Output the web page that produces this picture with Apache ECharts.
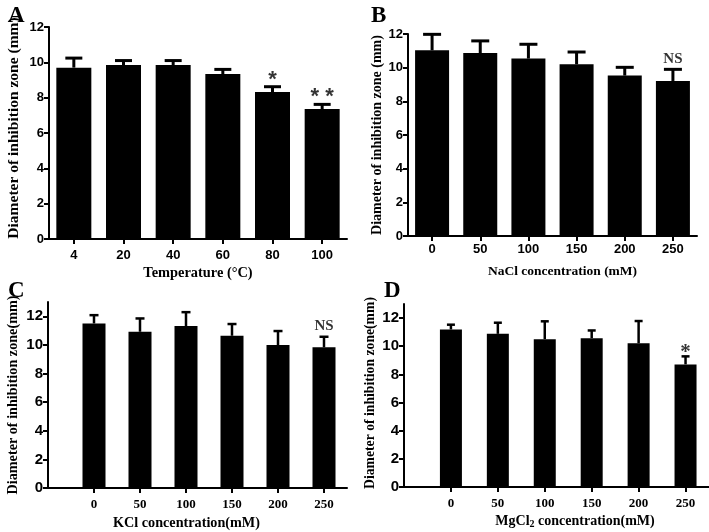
<!DOCTYPE html>
<html>
<head>
<meta charset="utf-8">
<script src="https://cdn.jsdelivr.net/npm/echarts@6/dist/echarts.min.js"></script>
<style>html,body{margin:0;padding:0;background:#fff;}#chart{width:709px;height:532px;}</style>
</head>
<body>
<div id="chart"></div>
<script>
// ---- Data ----
const tempCats = ['4', '20', '40', '60', '80', '100'];
const tempMeans = [9.70, 9.85, 9.85, 9.34, 8.32, 7.36];
const tempSD = [0.54, 0.25, 0.25, 0.26, 0.30, 0.26];
const tempSig = ['', '', '', '', '*', '* *'];

const naclCats = ['0', '50', '100', '150', '200', '250'];
const naclMeans = [11.03, 10.87, 10.54, 10.20, 9.53, 9.21];
const naclSD = [0.95, 0.72, 0.85, 0.73, 0.49, 0.69];
const naclSig = ['', '', '', '', '', 'NS'];

const kclCats = ['0', '50', '100', '150', '200', '250'];
const kclMeans = [11.50, 10.92, 11.32, 10.64, 9.99, 9.83];
const kclSD = [0.58, 0.93, 0.97, 0.82, 0.98, 0.74];
const kclSig = ['', '', '', '', '', 'NS'];

const mgCats = ['0', '50', '100', '150', '200', '250'];
const mgMeans = [11.19, 10.88, 10.50, 10.57, 10.21, 8.71];
const mgSD = [0.34, 0.79, 1.27, 0.55, 1.58, 0.57];
const mgSig = ['', '', '', '', '', '*'];

const yTicksCD = [0, 2, 4, 6, 8, 10, 12];
const xIdx = [0, 1, 2, 3, 4, 5];

// ---- Helpers ----
const SANS = 'Liberation Sans';
const SERIF = 'Liberation Serif';
const yTitle = 'Diameter of inhibition zone (mm)';
const yTitle2 = 'Diameter of inhibition zone(mm)';

function errData(means, sd) {
  return means.map((m, i) => [i, m, +(m + sd[i]).toFixed(3)]);
}
function sigData(means, sd, sig) {
  const out = [];
  means.forEach((m, i) => {
    if (sig[i]) out.push({ value: [i, m + sd[i]], label: { formatter: sig[i] } });
  });
  return out;
}
function errSeries(idx, means, sd, capHalf, lw) {
  return {
    type: 'custom', xAxisIndex: idx, yAxisIndex: idx, z: 1,
    data: errData(means, sd),
    renderItem: function (params, api) {
      const x = api.value(0), v = api.value(1), e = api.value(2);
      const p0 = api.coord([x, v]);
      const p1 = api.coord([x, e]);
      const st = { stroke: '#000', lineWidth: lw };
      return {
        type: 'group',
        children: [
          { type: 'line', shape: { x1: p0[0], y1: p0[1], x2: p1[0], y2: p1[1] }, style: st },
          { type: 'line', shape: { x1: p1[0] - capHalf, y1: p1[1], x2: p1[0] + capHalf, y2: p1[1] }, style: st }
        ]
      };
    }
  };
}
function sigSeries(idx, means, sd, sig, font, size, dist) {
  return {
    type: 'scatter', xAxisIndex: idx, yAxisIndex: idx, symbolSize: 0, z: 5,
    data: sigData(means, sd, sig),
    label: { show: true, position: 'top', distance: dist, color: '#000',
      fontFamily: font, fontWeight: 'bold', fontSize: size }
  };
}
const axLine = { show: true, onZero: false, lineStyle: { color: '#000', width: 2 } };
const axTick = { show: true, length: 5, lineStyle: { color: '#000', width: 2 } };

const option = {
  backgroundColor: '#fff',
  animation: false,
  title: [
    { text: 'A', left: 3, top: 0, textStyle: { fontFamily: SERIF, fontWeight: 'bold', fontSize: 23, color: '#000' } },
    { text: 'B', left: 366, top: 0, textStyle: { fontFamily: SERIF, fontWeight: 'bold', fontSize: 23, color: '#000' } },
    { text: 'C', left: 3, top: 275, textStyle: { fontFamily: SERIF, fontWeight: 'bold', fontSize: 23, color: '#000' } },
    { text: 'D', left: 379, top: 275, textStyle: { fontFamily: SERIF, fontWeight: 'bold', fontSize: 23, color: '#000' } }
  ],
  grid: [
    { left: 49, top: 27, width: 298, height: 212 },
    { left: 408, top: 34, width: 289, height: 202 },
    { left: 48, top: 302, width: 299, height: 186 },
    { left: 404, top: 304, width: 305, height: 183 }
  ],
  xAxis: [
    { type: 'category', gridIndex: 0, data: tempCats, axisLine: axLine,
      axisTick: Object.assign({ alignWithLabel: true }, axTick),
      axisLabel: { margin: 10, color: '#000', fontFamily: SANS, fontWeight: 'bold', fontSize: 13 },
      name: 'Temperature (°C)', nameLocation: 'middle', nameGap: 27,
      nameTextStyle: { fontFamily: SERIF, fontWeight: 'bold', fontSize: 14.4, color: '#000' } },
    { type: 'category', gridIndex: 1, data: naclCats, axisLine: axLine,
      axisTick: Object.assign({ alignWithLabel: true }, axTick),
      axisLabel: { margin: 7, color: '#000', fontFamily: SANS, fontWeight: 'bold', fontSize: 13 },
      name: 'NaCl concentration (mM)', nameLocation: 'middle', nameGap: 29,
      nameTextStyle: { fontFamily: SERIF, fontWeight: 'bold', fontSize: 13.5, color: '#000', padding: [0, 0, 0, 20] } },
    { type: 'value', gridIndex: 2, min: -1, max: 5.5, splitLine: { show: false }, axisLine: axLine,
      axisTick: Object.assign({ customValues: xIdx }, axTick),
      axisLabel: { customValues: xIdx, formatter: v => kclCats[v], margin: 10, color: '#000',
        fontFamily: SERIF, fontWeight: 'bold', fontSize: 13 },
      name: 'KCl concentration(mM)', nameLocation: 'middle', nameGap: 28,
      nameTextStyle: { fontFamily: SERIF, fontWeight: 'bold', fontSize: 14.2, color: '#000', padding: [0, 22, 0, 0] } },
    { type: 'value', gridIndex: 3, min: -1, max: 5.5, splitLine: { show: false }, axisLine: axLine,
      axisTick: Object.assign({ customValues: xIdx }, axTick),
      axisLabel: { customValues: xIdx, formatter: v => mgCats[v], margin: 10, color: '#000',
        fontFamily: SERIF, fontWeight: 'bold', fontSize: 13 },
      name: 'MgCl{sub|2} concentration(mM)', nameLocation: 'middle', nameGap: 26,
      nameTextStyle: { fontFamily: SERIF, fontWeight: 'bold', fontSize: 14, color: '#000', padding: [0, 0, 0, 37],
        rich: { sub: { fontFamily: SERIF, fontWeight: 'bold', fontSize: 10, color: '#000', verticalAlign: 'bottom', padding: [6, 0, 0, 0] } } } }
  ],
  yAxis: [
    { type: 'value', gridIndex: 0, min: 0, max: 12, interval: 2, splitLine: { show: false },
      axisLine: axLine, axisTick: axTick,
      axisLabel: { margin: 5, color: '#000', fontFamily: SANS, fontWeight: 'bold', fontSize: 13 },
      name: yTitle, nameLocation: 'middle', nameGap: 27,
      nameTextStyle: { fontFamily: SERIF, fontWeight: 'bold', fontSize: 15.5, color: '#000', padding: [0, 0, 0, 10] } },
    { type: 'value', gridIndex: 1, min: 0, max: 12, interval: 2, splitLine: { show: false },
      axisLine: axLine, axisTick: axTick,
      axisLabel: { margin: 5, color: '#000', fontFamily: SANS, fontWeight: 'bold', fontSize: 13 },
      name: yTitle, nameLocation: 'middle', nameGap: 24,
      nameTextStyle: { fontFamily: SERIF, fontWeight: 'bold', fontSize: 14, color: '#000' } },
    { type: 'value', gridIndex: 2, min: 0, max: 13, splitLine: { show: false },
      axisLine: axLine, axisTick: Object.assign({ customValues: yTicksCD }, axTick),
      axisLabel: { customValues: yTicksCD, margin: 5, color: '#000', fontFamily: SANS, fontWeight: 'bold', fontSize: 15 },
      name: yTitle2, nameLocation: 'middle', nameGap: 28,
      nameTextStyle: { fontFamily: SERIF, fontWeight: 'bold', fontSize: 14.2, color: '#000' } },
    { type: 'value', gridIndex: 3, min: 0, max: 13, splitLine: { show: false },
      axisLine: axLine, axisTick: Object.assign({ customValues: yTicksCD }, axTick),
      axisLabel: { customValues: yTicksCD, margin: 5, color: '#000', fontFamily: SANS, fontWeight: 'bold', fontSize: 15 },
      name: yTitle2, nameLocation: 'middle', nameGap: 27,
      nameTextStyle: { fontFamily: SERIF, fontWeight: 'bold', fontSize: 13.7, color: '#000', padding: [0, 0, 0, 5] } }
  ],
  series: [
    { type: 'bar', xAxisIndex: 0, yAxisIndex: 0, data: tempMeans, barWidth: 35, itemStyle: { color: '#000' }, z: 2 },
    { type: 'bar', xAxisIndex: 1, yAxisIndex: 1, data: naclMeans, barWidth: 34, itemStyle: { color: '#000' }, z: 2 },
    { type: 'bar', xAxisIndex: 2, yAxisIndex: 2, data: kclMeans.map((v, i) => [i, v]), barWidth: 23, itemStyle: { color: '#000' }, z: 2 },
    { type: 'bar', xAxisIndex: 3, yAxisIndex: 3, data: mgMeans.map((v, i) => [i, v]), barWidth: 22, itemStyle: { color: '#000' }, z: 2 },
    errSeries(0, tempMeans, tempSD, 8.5, 3),
    errSeries(1, naclMeans, naclSD, 9, 3),
    errSeries(2, kclMeans, kclSD, 4.5, 2.5),
    errSeries(3, mgMeans, mgSD, 4, 2.5),
    sigSeries(0, tempMeans, tempSD, tempSig, SANS, 22, -4),
    sigSeries(1, naclMeans, naclSD, naclSig, SERIF, 15, 3),
    sigSeries(2, kclMeans, kclSD, kclSig, SERIF, 15, 3),
    sigSeries(3, mgMeans, mgSD, mgSig, SERIF, 21, -7)
  ]
};

const chart = echarts.init(document.getElementById('chart'));
chart.setOption(option);
</script>
</body>
</html>
